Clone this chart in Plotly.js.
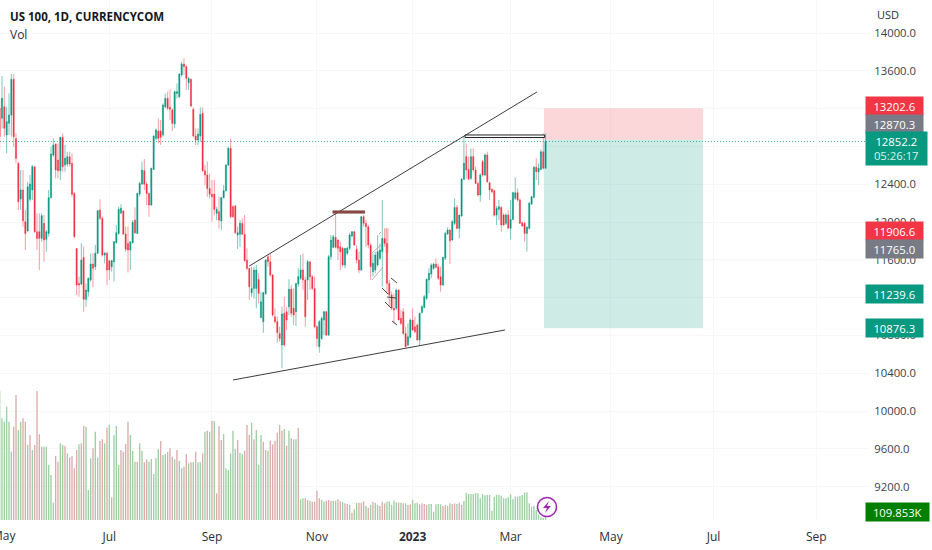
<!DOCTYPE html>
<html><head><meta charset="utf-8">
<script src="https://cdn.plot.ly/plotly-3.0.1.min.js"></script>
<style>html,body{margin:0;padding:0;background:#fff}#c{width:932px;height:550px;overflow:hidden}</style>
</head><body><div id="c"></div>
<script>
const openP=[13203,13097,13220,12921,13044,13132,13510,12885,12621,12243,12339,12004,11905,12240,12339,12586,11898,11898,11827,11986,11817,11880,12258,12709,12825,12656,12543,12896,12603,12614,12691,12621,12303,11721,11351,11344,11626,11182,11263,11386,11556,11527,11669,12127,12039,11651,11669,11591,11527,11580,11781,11880,12092,12116,11873,11774,11704,11781,12021,11880,12296,12402,12543,12402,12303,12180,12557,12885,12963,12963,12921,13220,13309,13213,13185,13037,13361,13326,13555,13672,13644,13474,13510,13192,12910,12868,12910,13150,12543,12497,12356,12293,12293,12092,12110,12011,12258,12332,12603,12780,12162,12169,11863,11870,11986,11870,11598,11510,11252,11298,11298,11393,10991,10945,11245,11633,11580,11439,10998,10945,
10822,10699,11034,11051,11104,11288,11087,11051,11344,11404,11492,11387,11387,11581,11422,11298,10893,10681,10769,10963,11051,10805,11634,11732,11838,11810,11739,11722,11545,11669,11722,11852,11898,11711,11598,11492,12057,11986,11951,11757,11475,11492,11545,11616,11686,11827,11774,11351,11228,11087,11087,11281,10981,11051,10822,10699,10780,10963,10893,10910,10752,11041,11097,11193,11387,11450,11510,11556,11528,11422,11334,11616,11873,11916,11810,11986,12155,11933,12064,12452,12692,12557,12462,12692,12550,12409,12286,12639,12498,12709,12416,12346,12332,12074,12134,12155,12074,11986,12074,11933,12028,12251,12311,12233,11993,11986,11880,11933,12191,12261,12579,12533,12557,12744,12568];
const highP=[13291,13545,13432,13220,13361,13566,13566,12938,12638,12550,12550,12127,12427,12497,12603,12593,12092,12092,12092,12074,11915,12339,12797,12885,12832,12832,12903,12938,12815,12744,12744,12727,12321,11721,11422,11774,11739,11351,11415,11669,11669,11757,12127,12240,12056,11686,11686,11598,11598,11799,11968,12162,12190,12127,11951,11951,11792,12021,12155,12310,12427,12638,12667,12427,12310,12575,12917,12991,13097,13079,13256,13361,13379,13404,13203,13390,13467,13573,13697,13732,13661,13538,13520,13213,12991,12991,13213,13213,12603,12638,12515,12444,12444,12162,12268,12268,12392,12610,12797,12885,12180,12180,11951,12021,12039,12074,11721,11510,11527,11527,11545,11457,11263,11263,11605,11651,11669,11450,11087,10998,
10893,11104,11210,11104,11394,11334,11298,11351,11510,11651,11669,11422,11598,11581,11439,11422,10910,10963,10999,11062,11062,11651,11863,11863,12092,11817,11792,11739,11722,11739,11887,11905,11905,11757,11686,12064,12074,12021,11969,11774,11669,11686,11863,11774,12233,11933,11933,11387,11263,11245,11298,11288,11069,11087,10893,10928,10981,11087,10999,10928,11041,11122,11228,11404,11510,11563,11570,11616,11563,11528,11634,11898,11944,11923,12021,12251,12180,12074,12462,12903,12833,12692,12780,12780,12586,12427,12515,12656,12727,12744,12427,12356,12339,12170,12233,12170,12092,12092,12127,12233,12321,12473,12356,12251,12004,12004,11958,12215,12275,12593,12674,12621,12769,12938,12938];
const lowP=[12762,12991,12903,12727,12921,12903,12797,12621,12127,12127,11951,11704,11898,12215,12233,11887,11704,11492,11792,11580,11686,11845,12250,12691,12462,12462,12444,12533,12533,12586,12586,12268,11827,11228,11210,11333,11051,11104,11210,11369,11309,11492,11661,12021,11633,11563,11333,11386,11475,11369,11774,11863,12092,11863,11686,11467,11492,11774,11873,11873,12268,12392,12339,12180,12056,12173,12550,12868,12832,12815,12903,13203,13185,13079,12963,12991,13309,13309,13538,13555,13397,13397,13213,12896,12815,12815,12850,12533,12392,12268,12250,12004,12074,12021,11933,11915,12250,12321,12593,12039,12046,11873,11714,11739,11863,11580,11492,11175,11210,11192,11087,11139,10981,10829,11228,11527,11422,10998,10928,10723,
10734,10452,10681,10858,11016,10999,10910,10900,11316,11387,11281,10893,11175,11281,11281,10875,10681,10618,10752,10805,10794,10794,11598,11722,11722,11598,11492,11528,11510,11651,11704,11838,11746,11563,11457,11485,11951,11739,11722,11387,11422,11457,11528,11598,11316,11739,11245,11104,11069,10928,11069,10963,10910,10805,10674,10688,10769,10850,10822,10745,10688,11034,11087,11175,11245,11404,11492,11510,11387,11263,11323,11598,11863,11556,11803,11969,11923,11827,12057,12445,12462,12445,12445,12533,12402,12268,12215,12480,12487,12416,12233,12304,12057,11969,12021,11898,11958,11969,11933,11817,12021,12233,12215,11979,11951,11792,11686,11923,12180,12251,12445,12392,12550,12557,12568];
const closeP=[12903,13309,12991,13062,13132,13510,12903,12674,12215,12339,12014,11880,12374,12402,12586,11898,11827,11827,12067,11810,11898,12258,12720,12815,12550,12543,12896,12586,12674,12691,12614,12293,11845,11333,11333,11598,11182,11280,11404,11556,11510,11669,12120,12039,11651,11669,11492,11492,11591,11792,11887,12134,12145,11873,11711,11704,11792,11997,11887,12303,12409,12550,12399,12303,12180,12568,12910,12974,12885,12896,13238,13309,13203,13192,13044,13379,13379,13566,13672,13644,13520,13520,13227,12910,12868,12931,13139,12543,12497,12356,12293,12268,12134,12134,12021,12258,12332,12603,12780,12056,12056,11887,11887,11986,11870,11591,11510,11316,11298,11492,11492,11245,11157,11252,11598,11580,11439,11016,10945,10829,
10769,11027,10699,10963,11288,11034,11016,11351,11422,11492,11387,10999,11581,11422,11298,10893,10769,10946,10981,11051,10805,11634,11810,11845,11732,11722,11686,11545,11722,11722,11863,11898,11757,11598,11492,12057,11986,11951,11757,11528,11563,11651,11686,11704,11827,11774,11351,11228,11087,11069,11281,10963,10928,10822,10681,10787,10963,10858,10840,10752,11034,11104,11210,11394,11457,11545,11556,11521,11404,11334,11626,11880,11916,11803,12004,12155,11933,12074,12455,12621,12550,12452,12692,12550,12409,12286,12498,12498,12709,12427,12339,12321,12074,12145,12162,11969,11969,12074,11933,12028,12311,12311,12233,11986,11958,11880,11944,12198,12268,12579,12533,12568,12744,12568,12852];
const volumeK=[1767,1393,1347,1553,1347,936,1279,1713,1233,1347,1393,1347,1028,1165,959,1028,1767,1174,1005,1005,1005,754,617,237,877,799,1050,1028,1014,913,859,877,708,959,1037,1050,1288,1279,411,845,982,1210,854,1082,1105,1050,1265,1302,311,1165,1288,754,959,936,1041,1347,1165,945,799,799,1050,950,790,831,799,836,630,845,968,1082,891,904,932,982,868,831,959,808,708,731,904,776,790,790,936,790,790,913,1210,1224,1210,1361,1356,365,1288,1096,1178,708,685,913,1224,973,1096,923,904,950,1302,1165,1334,1105,1233,754,1165,1073,959,950,1087,1037,1087,1197,1302,1224,1247,1018,1224,1119,1105,1105,1265,283,297,297,274,
260,251,251,402,297,274,251,265,274,260,265,265,283,256,247,228,219,206,100,146,237,237,237,256,192,169,206,251,237,206,192,251,228,251,256,206,265,242,237,237,228,228,206,215,274,228,237,215,228,219,206,219,219,114,215,219,215,192,201,196,228,219,228,219,237,206,260,374,356,356,356,365,365,297,352,338,343,343,128,320,343,343,333,297,297,311,352,283,320,320,333,343,374,379,228,183,196,137,69,37,27,109.853];
const volumeDir=("ggggggrrggrrgrgrrrrggggg"+"rrggrgrrrrgrrgggrggrrgrgrgggrrrrggg"+"rggrrgg"+"gggrggrrrgrggrrgrgrgg"+"rgrgrgrrrggggggrgg"+"rrrgrgggrrgrrrrrrg"+"rgrggrggrrg"+"rrrrggrrrggrrgrrgrggrrrgrgrggrrrgggggrgrgrrg"+"ggrrrrggggggrrggrrgrrg").split("");
const xTickIdx=[47,91,136,177,219,262,306,350];
const xTickText=["Jul","Sep","Nov","<b>2023</b>","Mar","May","Jul","Sep"];
const firstTickIdx=1, firstTickText="May";
const yTicks=[14000,13600,13200,12800,12400,12000,11600,11200,10800,10400,10000,9600,9200];
const yHidden=[13200,12800,11200];
const lastPrice=12852.2, stopPrice=13202.6, entryPrice=12870.3, targetPrice=10876.3;
const zoneStartIdx=233.3, zoneEndIdx=301.5;
const upperTrend={x:[107,230.3],y:[11535,13376]};
const lowerTrend={x:[100,216.6],y:[10329,10858]};
const topBox={x:[199.5,233.6],y:[12921,12894]};
const midBox={x:[142.8,156.5],y:[12120,12092]};
const priceTags=[
 {t:"13202.6",c:"#f23645",y:106},{t:"12870.3",c:"#787b86",y:123.5},
 {t:"11906.6",c:"#f23645",y:230.5},{t:"11765.0",c:"#787b86",y:248.5},
 {t:"11239.6",c:"#089981",y:293.5},{t:"10876.3",c:"#089981",y:327.5}];

const H=520,W=868;
const px=x=>x/W, py=y=>1-y/H;
const idx=Array.from({length:openP.length},(_,i)=>i);
const vidx=Array.from({length:volumeK.length},(_,i)=>i);
const volCol=volumeDir.map(d=>d==="g"?"#9dd0a2":"#dcacac");
while(volCol.length<volumeK.length)volCol.push("#9dd0a2");

const traces=[
 {type:"bar",x:vidx,y:volumeK,yaxis:"y2",marker:{color:volCol,line:{width:0}},width:0.58,hoverinfo:"skip",showlegend:false},
 {type:"candlestick",x:idx,open:openP,high:highP,low:lowP,close:closeP,hoverinfo:"skip",showlegend:false,
  increasing:{line:{color:"rgba(8,153,129,0.6)",width:0.9},fillcolor:"#079278"},
  decreasing:{line:{color:"rgba(242,54,69,0.55)",width:0.9},fillcolor:"#f0233a"}}
];
const ln=(x0,y0,x1,y1,color,width,dash)=>({type:"line",xref:"x",yref:"y",x0,y0,x1,y1,line:{color,width,dash:dash||"solid"}});
const lp=(x0,y0,x1,y1,color,width,dash)=>({type:"line",xref:"paper",yref:"paper",x0:px(x0),y0:py(y0),x1:px(x1),y1:py(y1),line:{color,width,dash:dash||"solid"}});
const shapes=[
 {type:"rect",xref:"x",yref:"y",x0:zoneStartIdx,x1:zoneEndIdx,y0:entryPrice,y1:stopPrice,fillcolor:"rgba(242,54,69,0.2)",line:{width:0},layer:"between"},
 {type:"rect",xref:"x",yref:"y",x0:zoneStartIdx,x1:zoneEndIdx,y0:targetPrice,y1:entryPrice,fillcolor:"rgba(8,153,129,0.2)",line:{width:0},layer:"between"},
 {type:"line",xref:"paper",yref:"y",x0:0,x1:px(865),y0:lastPrice,y1:lastPrice,line:{color:"rgba(8,153,129,0.75)",width:1,dash:"1px,2px"},layer:"between"},
 ln(upperTrend.x[0],upperTrend.y[0],upperTrend.x[1],upperTrend.y[1],"#3c3c3c",1),
 ln(lowerTrend.x[0],lowerTrend.y[0],lowerTrend.x[1],lowerTrend.y[1],"#3c3c3c",1),
 {type:"rect",xref:"x",yref:"y",x0:topBox.x[0],x1:topBox.x[1],y0:topBox.y[1],y1:topBox.y[0],fillcolor:"rgba(255,255,255,0.85)",line:{color:"#222",width:1}},
 {type:"rect",xref:"x",yref:"y",x0:midBox.x[0],x1:midBox.x[1],y0:midBox.y[1],y1:midBox.y[0],fillcolor:"#8a4b4b",line:{color:"#7a3f3f",width:0.5}},
 {type:"rect",xref:"paper",yref:"paper",x0:px(385),x1:px(389),y0:py(253),y1:py(228),fillcolor:"rgba(242,54,69,0.18)",line:{width:0}},
 lp(372,253,382,244,"#a0a0a0",0.8), lp(372,280,383,267,"#a0a0a0",0.8), lp(379,234,381,232,"#a0a0a0",0.8),
 lp(391,278,397,283,"#333",0.9,"dash"), lp(382,288,388,294,"#333",0.9,"dash"),
 lp(385,302,391,308,"#333",0.9,"dash"), lp(392,321,397,325,"#333",0.9,"dash"),
 lp(387,297,396,298,"#333",0.9,"dash"),
 {type:"circle",xref:"paper",yref:"paper",x0:px(537.5),x1:px(556.5),y0:py(516.5),y1:py(497.5),fillcolor:"#fff",line:{color:"#9c27b0",width:1.6}},
 {type:"path",xref:"paper",yref:"paper",path:"M"+[[549,501],[543,508],[547,508],[545,513],[551,506],[547,506]].map(p=>px(p[0])+","+py(p[1])).join(" L")+" Z",fillcolor:"#9c27b0",line:{width:0}}
];
const FS=11.3;
const ann=(text,x,y,o)=>Object.assign({text,xref:"paper",yref:"paper",x:px(x),y:py(y),xanchor:"left",yanchor:"middle",showarrow:false,font:{family:"Open Sans",size:FS,color:"#2a2e39"}},o||{});
const annotations=[
 ann("<b>US 100, 1D, CURRENCYCOM</b>",8,17,{font:{family:"Open Sans",size:11.5,color:"#131722"}}),
 ann("Vol",8,35,{font:{family:"Open Sans",size:12,color:"#2a2e39"}}),
 ann("USD",875,14,{font:{family:"Open Sans",size:11,color:"#2a2e39"}}),
 ...priceTags.map(p=>ann(p.t,865,p.y,{bgcolor:p.c,width:56.5,height:18,align:"center",borderpad:0,font:{family:"Open Sans",size:FS,color:"#fff"}})),
 ann(lastPrice.toFixed(1)+"<br><span style='color:#d9f2ed'>05:26:17</span>",865,148.5,{bgcolor:"#089981",width:60.5,height:33,align:"center",borderpad:0,font:{family:"Open Sans",size:FS,color:"#fff"}}),
 ann("109.853K",865,512,{bgcolor:"#008000",width:62.5,height:18,align:"center",borderpad:0,font:{family:"Open Sans",size:FS,color:"#fff"}}),
 ann(firstTickText,(firstTickIdx*2.333)+2,535.5,{xanchor:"center",font:{family:"Open Sans",size:12,color:"#2a2e39"}})
];
const layout={
 width:932,height:550,margin:{l:0,r:64,t:0,b:30,pad:0},paper_bgcolor:"#fff",plot_bgcolor:"#fff",
 showlegend:false,hovermode:false,barmode:"overlay",boxgap:0.3,
 font:{family:"Open Sans",size:12,color:"#2a2e39"},
 xaxis:{type:"linear",range:[0.14,372.2],rangeslider:{visible:false},tickmode:"array",tickvals:xTickIdx,ticktext:xTickText,
  showgrid:true,gridcolor:"#f7f7f8",gridwidth:1,zeroline:false,showline:false,ticks:"outside",ticklen:6,tickcolor:"rgba(0,0,0,0)",tickfont:{size:12,color:"#2a2e39"}},
 yaxis:{type:"linear",range:[14000-487*10.58,14000+33*10.58],side:"right",tickmode:"array",tickvals:yTicks,ticktext:yTicks.map(v=>yHidden.includes(v)?"":v.toFixed(1)),
  showgrid:true,gridcolor:"#f7f7f8",gridwidth:1,zeroline:false,showline:false,ticks:"outside",ticklen:3,tickcolor:"rgba(0,0,0,0)",tickfont:{size:FS,color:"#3c404c"}},
 yaxis2:{overlaying:"y",side:"left",range:[0,7124],visible:false,showgrid:false,zeroline:false},
 shapes,annotations
};
Plotly.newPlot("c",traces,layout,{displayModeBar:false,staticPlot:true});
</script></body></html>
